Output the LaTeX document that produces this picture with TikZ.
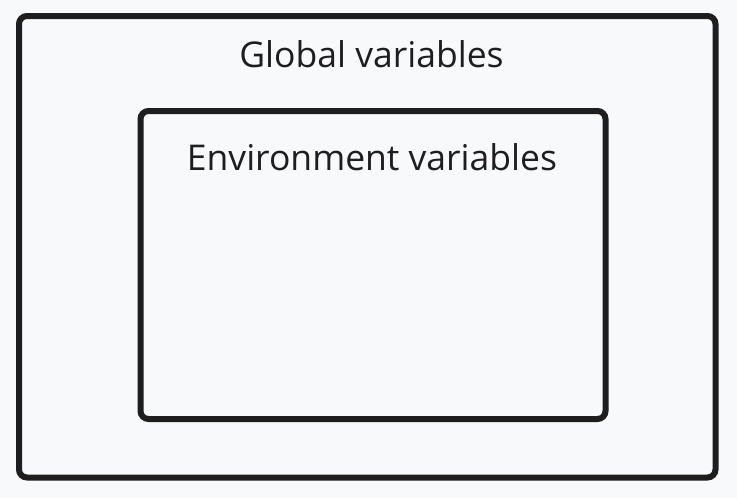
\documentclass[tikz,border=0pt]{standalone}
\usepackage{fontspec}
\setmainfont{Open Sans}
\usepackage{xcolor}
\usepackage{tikz}
\definecolor{bg}{HTML}{F8F9FB}
\definecolor{ink}{HTML}{1E1E1E}
\tikzset{
  frame/.style={draw=ink, line width=6pt, rounded corners=8pt},
  lbl/.style={text=ink, font=\fontsize{35.5}{42}\selectfont, anchor=base, inner sep=0pt}
}

\begin{document}
\begin{tikzpicture}[x=1pt, y=-1pt]
  \fill[bg] (0,0) rectangle (737,498);
  \useasboundingbox (0,0) rectangle (737,498);

  \draw[frame] (19,16) rectangle (715.5,477.5);
  \draw[frame] (140.5,111) rectangle (605.5,419);

  \node[lbl] (global) at (371.5,67) {Global variables};
  \node[lbl] (env) at (372,170) {Environment variables};
\end{tikzpicture}
\end{document}
